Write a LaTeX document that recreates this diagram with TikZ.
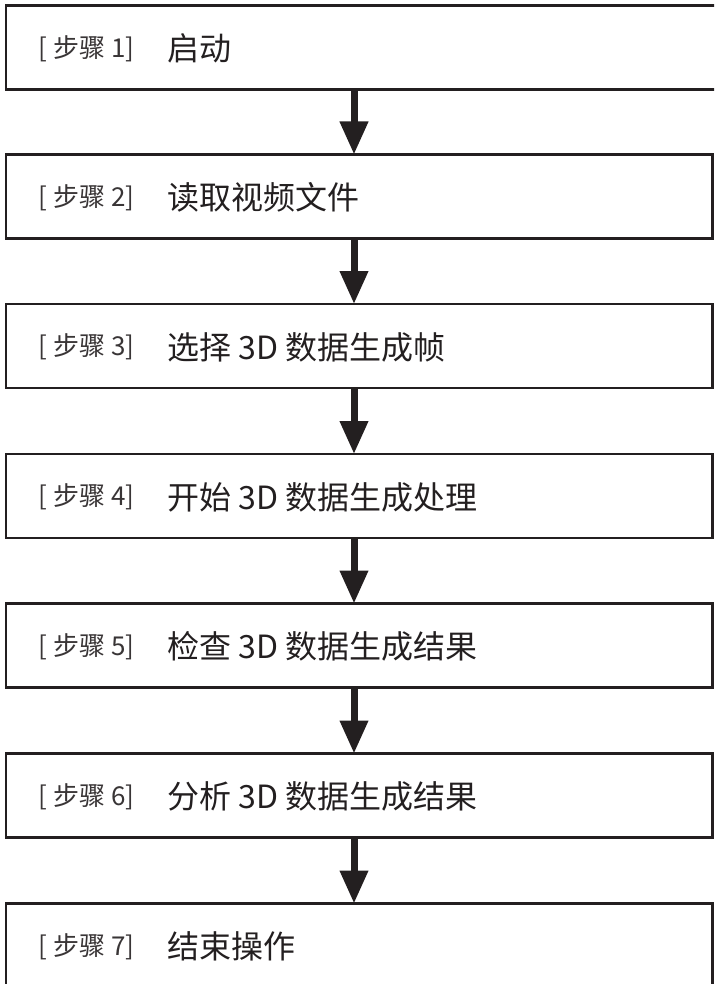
\documentclass[tikz,border=0pt]{standalone}
\usepackage{fontspec}
\newfontfamily\cjk{Noto Sans CJK SC}
\usetikzlibrary{arrows.meta}
\definecolor{ink}{HTML}{231F20}
\begin{document}
\begin{tikzpicture}[x=1pt,y=-1pt,
 stepbox/.style={draw=ink, line width=2.6pt, rectangle, minimum width=706.7pt, minimum height=84pt, anchor=north west, inner sep=0pt, outer sep=0pt},
 steplabel/.style={anchor=west, font=\cjk\fontsize{26}{30}\selectfont, text=ink!90, inner sep=0pt},
 steptext/.style={anchor=west, font=\cjk\fontsize{32}{38}\selectfont, text=ink, inner sep=0pt},
 flow/.style={draw=ink, line width=7pt, -{Triangle[width=27pt,length=33pt]}}]
\useasboundingbox (0,0) rectangle (714,984);
\clip (0,0) rectangle (714,984);
\node[stepbox, minimum width=720pt] (b1) at (6,5.5) {};
\node[stepbox] (b2) at (6,154.5) {};
\node[stepbox] (b3) at (6,304) {};
\node[stepbox] (b4) at (6,454) {};
\node[stepbox] (b5) at (6,603.5) {};
\node[stepbox] (b6) at (6,753.5) {};
\node[stepbox, minimum height=100pt] (b7) at (6,903.5) {};
\coordinate (ax) at (354,0);
\foreach \i/\lab/\txt/\yy in {1/1/启动/47.5, 2/2/读取视频文件/196.5, 3/3/选择 3D 数据生成帧/346, 4/4/开始 3D 数据生成处理/496, 5/5/检查 3D 数据生成结果/645.5, 6/6/分析 3D 数据生成结果/795.5, 7/7/结束操作/945.5}{
  \node[steplabel] (l\i) at (38.5,\yy+1) {[ 步骤 \lab]};
  \node[steptext] (t\i) at (167,\yy+1) {\txt};
}
\foreach \a/\b in {b1/b2,b2/b3,b3/b4,b4/b5,b5/b6,b6/b7}{
  \draw[flow] (\a.south -| ax) -- (\b.north -| ax);
}
\end{tikzpicture}
\end{document}
